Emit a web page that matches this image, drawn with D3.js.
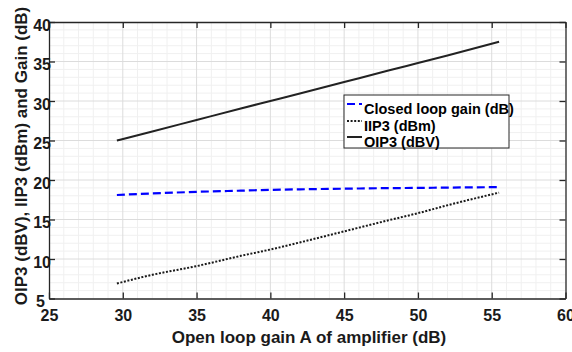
<!DOCTYPE html>
<html>
<head>
<meta charset="utf-8">
<script src="https://cdn.jsdelivr.net/npm/d3@7"></script>
<style>
	body {
		margin: 0;
		background: #ffffff;
	}

	svg text {
		font-family: "Liberation Sans", Arial, sans-serif;
		font-weight: 700;
		fill: #1a1a1a;
	}
</style>
</head>
<body>
<svg id="chart" width="572" height="352"></svg>
<script>
// Open loop gain A (dB), sampled along the curves
const openLoopGain = [29.6, 32, 35, 38, 40, 42, 45, 48, 50, 52, 55.5];
// Closed loop gain (dB)
const closedLoopGain = [18.1, 18.3, 18.5, 18.65, 18.75, 18.82, 18.9, 18.97, 19.0, 19.04, 19.1];
// IIP3 (dBm)
const iip3 = [6.9, 8.0, 9.1, 10.4, 11.2, 12.1, 13.5, 14.9, 15.8, 16.8, 18.4];
// OIP3 (dBV)
const oip3 = [25.0, 26.15, 27.6, 29.05, 30.0, 30.95, 32.4, 33.85, 34.8, 35.75, 37.5];

const xTicks = [25, 30, 35, 40, 45, 50, 55, 60];
const yTicks = [5, 10, 15, 20, 25, 30, 35, 40];

const seriesList = [
	{name: "Closed loop gain (dB)", values: closedLoopGain, color: "#0000ff", dash: "8,4", width: 2.2},
	{name: "IIP3 (dBm)", values: iip3, color: "#1a1a1a", dash: "2,1.6", width: 2},
	{name: "OIP3 (dBV)", values: oip3, color: "#222222", dash: null, width: 2},
];

const plot = {left: 49, right: 565.5, top: 22, bottom: 298.5};

const x = d3.scaleLinear().domain([25, 60]).range([plot.left, plot.right]);
const y = d3.scaleLinear().domain([5, 40]).range([plot.bottom, plot.top]);

const svg = d3.select("#chart");

// Minor grid (every 1 dB)
const grid = svg.append("g");
grid.selectAll("line.minor-x")
	.data(d3.range(26, 60).filter((v) => v % 5 !== 0))
	.enter()
	.append("line")
	.attr("x1", (d) => x(d))
	.attr("x2", (d) => x(d))
	.attr("y1", plot.top)
	.attr("y2", plot.bottom)
	.attr("stroke", "#f0f0f0")
	.attr("stroke-width", 1);
grid.selectAll("line.minor-y")
	.data(d3.range(6, 40).filter((v) => v % 5 !== 0))
	.enter()
	.append("line")
	.attr("y1", (d) => y(d))
	.attr("y2", (d) => y(d))
	.attr("x1", plot.left)
	.attr("x2", plot.right)
	.attr("stroke", "#f0f0f0")
	.attr("stroke-width", 1);

// Major grid
grid.selectAll("line.major-x")
	.data(xTicks.slice(1, -1))
	.enter()
	.append("line")
	.attr("x1", (d) => x(d))
	.attr("x2", (d) => x(d))
	.attr("y1", plot.top)
	.attr("y2", plot.bottom)
	.attr("stroke", "#dcdcdc")
	.attr("stroke-width", 1);
grid.selectAll("line.major-y")
	.data(yTicks.slice(1, -1))
	.enter()
	.append("line")
	.attr("y1", (d) => y(d))
	.attr("y2", (d) => y(d))
	.attr("x1", plot.left)
	.attr("x2", plot.right)
	.attr("stroke", "#dcdcdc")
	.attr("stroke-width", 1);

// Data lines
const line = d3.line()
	.x((d, i) => x(openLoopGain[i]))
	.y((d) => y(d))
	.curve(d3.curveMonotoneX);

seriesList.forEach((s) => {
	svg.append("path")
		.datum(s.values)
		.attr("fill", "none")
		.attr("stroke", s.color)
		.attr("stroke-width", s.width)
		.attr("stroke-dasharray", s.dash)
		.attr("d", line);
});

// Axes box with inward ticks on all four sides
const tickLen = 6;
const axisColor = "#262626";

svg.append("g")
	.attr("transform", `translate(0,${plot.bottom})`)
	.call(d3.axisBottom(x).tickValues(xTicks).tickSizeInner(-tickLen).tickSizeOuter(0).tickPadding(11));

svg.append("g")
	.attr("transform", `translate(0,${plot.top})`)
	.call(d3.axisTop(x).tickValues(xTicks).tickSizeInner(-tickLen).tickSizeOuter(0).tickFormat(""));

const yAxis = svg.append("g")
	.attr("transform", `translate(${plot.left},0)`)
	.call(d3.axisLeft(y).tickValues(yTicks).tickSizeInner(-tickLen).tickSizeOuter(0).tickPadding(-2));

svg.append("g")
	.attr("transform", `translate(${plot.right},0)`)
	.call(d3.axisRight(y).tickValues(yTicks).tickSizeInner(-tickLen).tickSizeOuter(0).tickFormat(""));

svg.selectAll(".domain").attr("stroke", axisColor).attr("stroke-width", 1.3);
svg.selectAll(".tick line").attr("stroke", axisColor).attr("stroke-width", 1.3);
svg.selectAll("g").attr("font-family", null).attr("font-size", null);
svg.selectAll(".tick text")
	.attr("fill", null)
	.style("fill", "#1a1a1a")
	.style("font-weight", "bold")
	.style("font-size", "16px");

// y tick labels sit a little low, the bottom one pushed aside by the x labels
yAxis.selectAll(".tick text")
	.attr("dy", "0.5em")
	.filter((d) => d === 5)
	.attr("x", -4)
	.attr("dy", "0.5em");

// Axis labels
svg.append("text")
	.attr("x", 309)
	.attr("y", 343)
	.attr("text-anchor", "middle")
	.style("font-size", "17px")
	.text("Open loop gain A of amplifier (dB)");

svg.append("text")
	.attr("transform", "translate(27,156)rotate(-90)")
	.attr("text-anchor", "middle")
	.style("font-size", "17px")
	.text("OIP3 (dBV), IIP3 (dBm) and Gain (dB)");

// Legend
const legend = svg.append("g").attr("transform", "translate(344,95)");
legend.append("rect")
	.attr("width", 165)
	.attr("height", 53)
	.attr("fill", "#ffffff")
	.attr("stroke", "#262626")
	.attr("stroke-width", 1);

const rowBaselines = [19, 36, 52];
const entries = legend.selectAll("g.entry")
	.data(seriesList)
	.enter()
	.append("g")
	.attr("transform", (d, i) => `translate(0,${rowBaselines[i]})`);

entries.append("line")
	.attr("x1", 3)
	.attr("x2", 18)
	.attr("y1", -10)
	.attr("y2", -10)
	.attr("stroke", (d) => d.color)
	.attr("stroke-width", (d) => d.width)
	.attr("stroke-dasharray", (d) => d.dash);

entries.append("text")
	.attr("x", 20)
	.attr("y", 0)
	.style("font-size", "14.5px")
	.style("fill", "#000000")
	.text((d) => d.name);
</script>
</body>
</html>
